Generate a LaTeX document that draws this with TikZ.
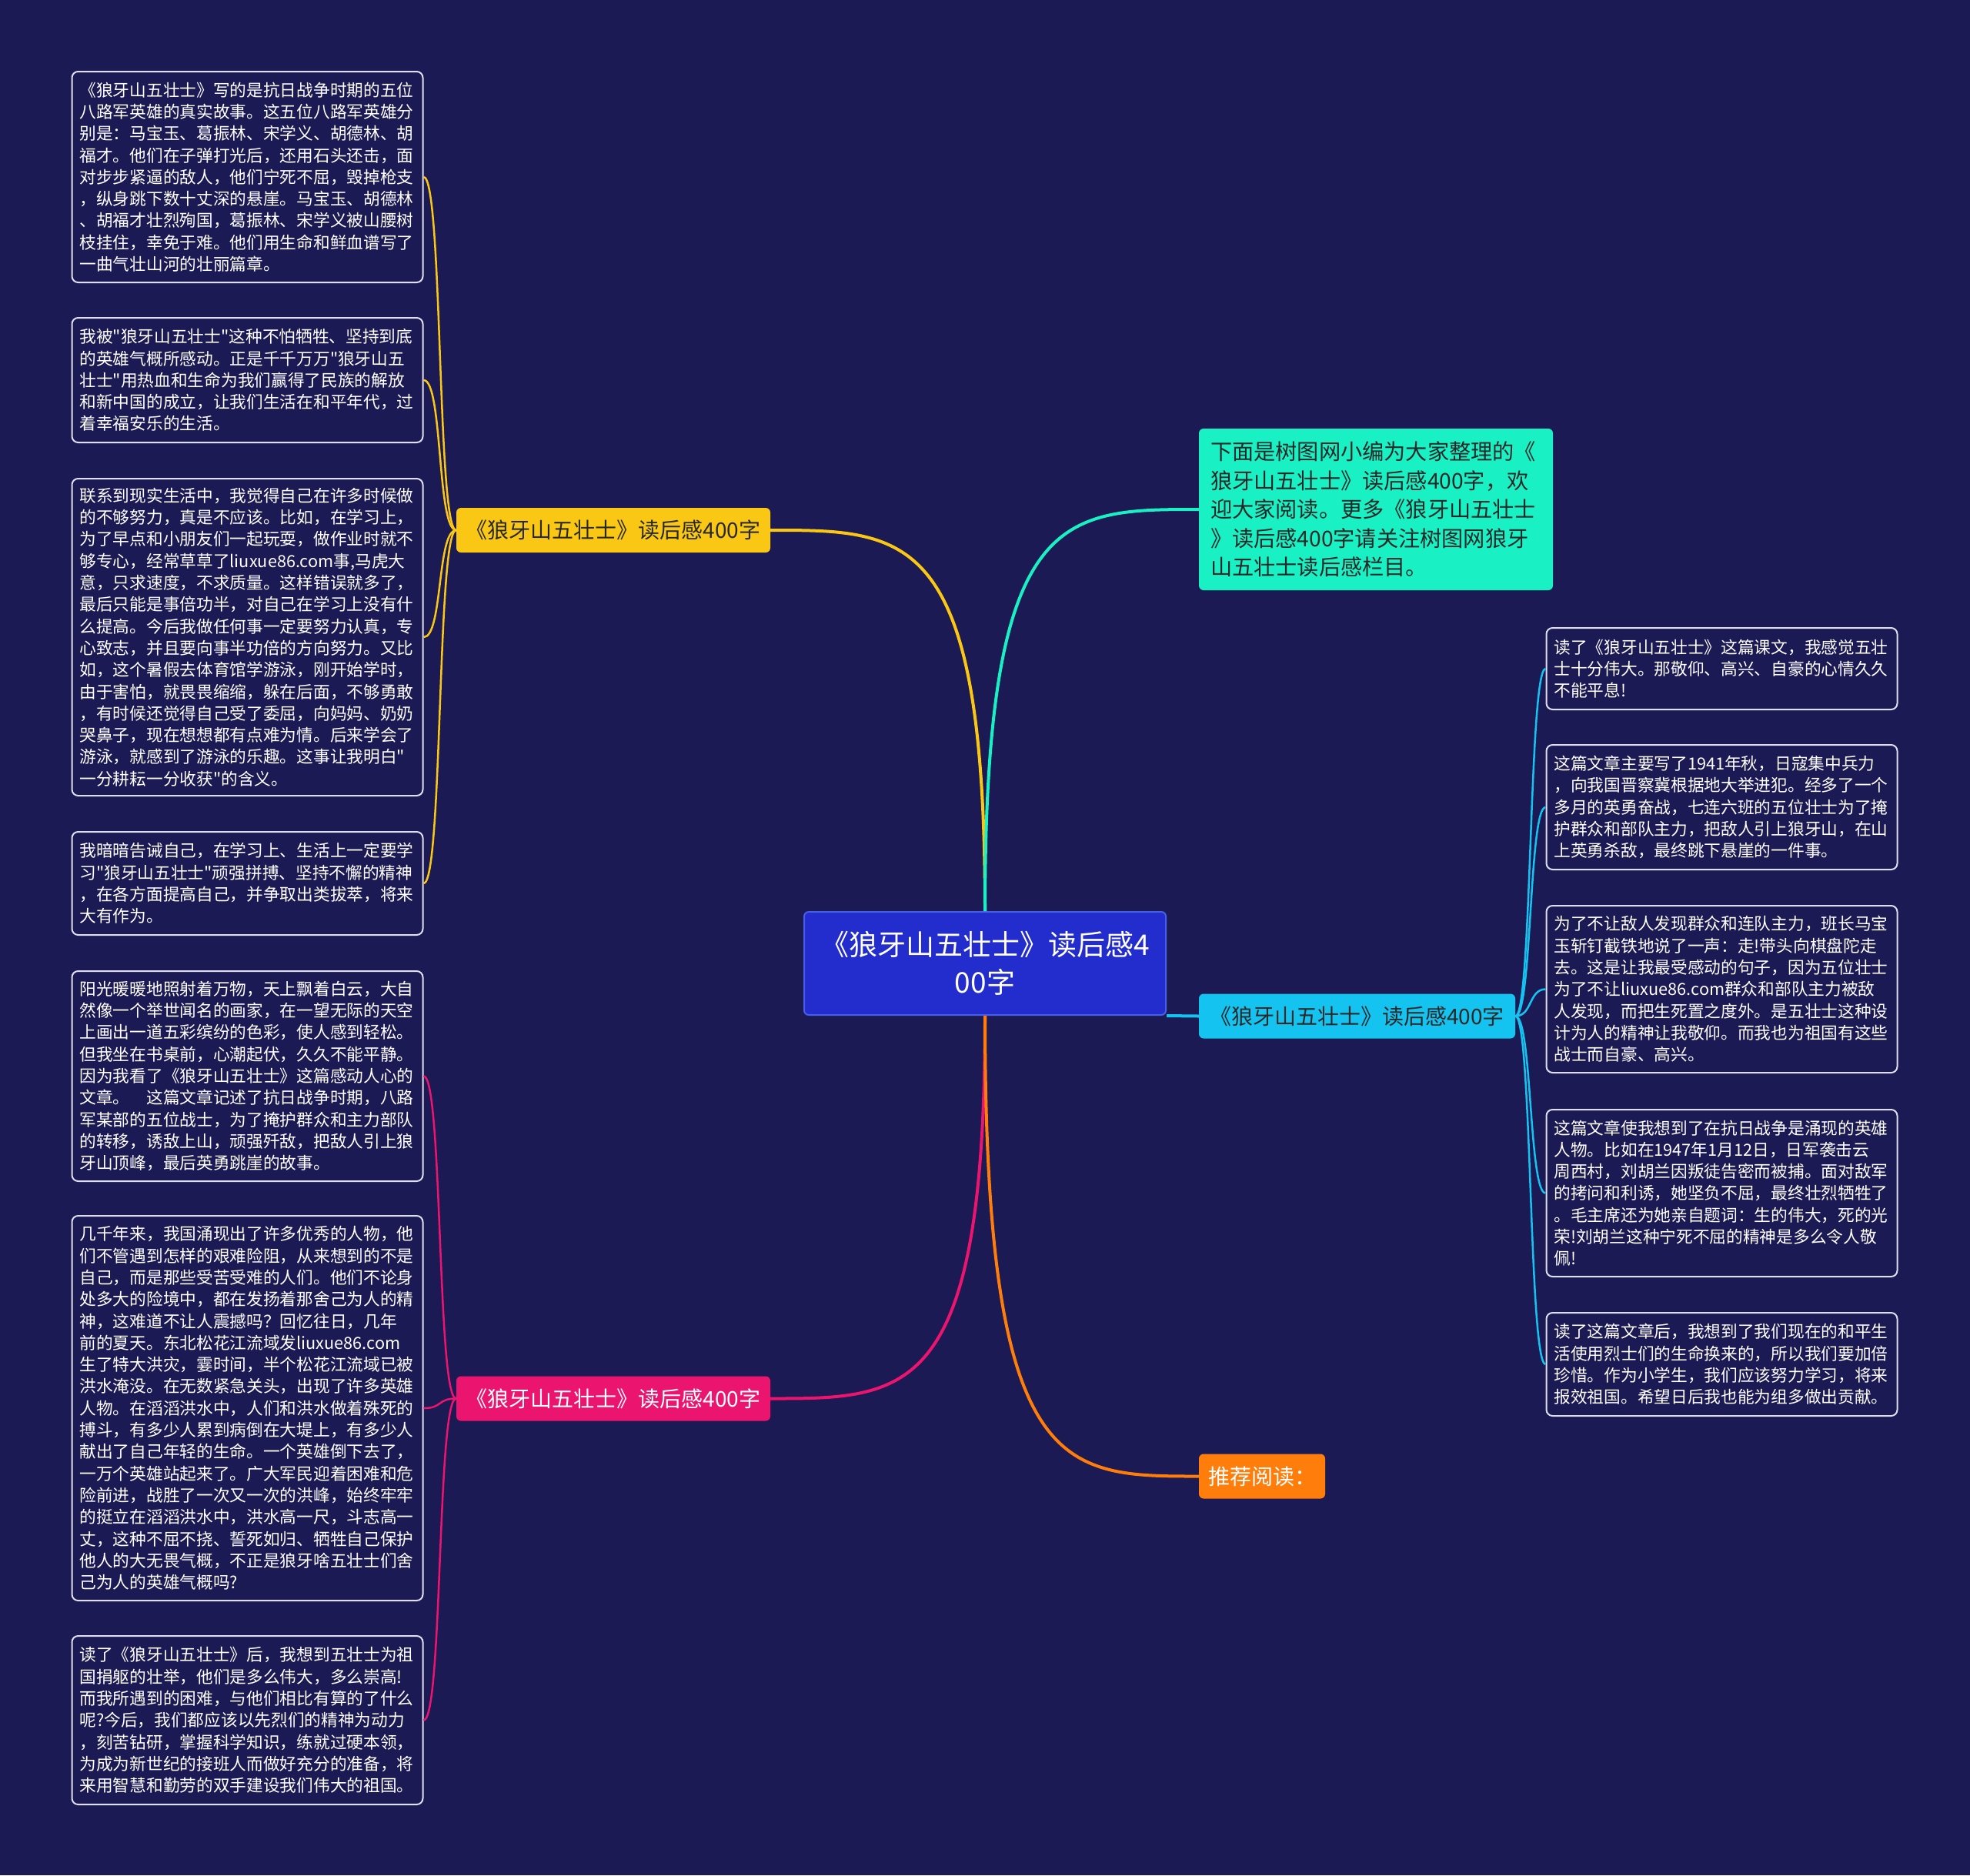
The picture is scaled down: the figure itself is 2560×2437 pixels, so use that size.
\documentclass[tikz,border=0pt]{standalone}
\usepackage{fontspec}
\setmainfont{Noto Sans CJK SC}[Ligatures=TeXOff]
\hyphenpenalty=10000
\definecolor{bgc}{RGB}{27,26,84}
\definecolor{leafline}{RGB}{222,222,238}
\definecolor{hubc}{RGB}{35,45,205}
\definecolor{hubline}{RGB}{70,95,235}
\definecolor{ylw}{RGB}{250,200,20}
\definecolor{pnk}{RGB}{235,20,110}
\definecolor{tea}{RGB}{25,240,195}
\definecolor{cyn}{RGB}{20,195,240}
\definecolor{org}{RGB}{255,125,10}
\definecolor{ink}{RGB}{40,40,40}

\begin{document}
\begin{tikzpicture}[x=1pt,y=-1pt,
  leaf/.style={draw=leafline, line width=2pt, rounded corners=8pt, fill=bgc, text=white,
    font=\fontsize{21.7}{28.3}\selectfont, align=left, text width=436pt, inner xsep=10pt, inner ysep=0pt},
  br/.style={rounded corners=6pt, font=\fontsize{28}{36}\selectfont, inner sep=0pt, minimum height=58pt},
  hub/.style={fill=hubc, draw=hubline, line width=2pt, rounded corners=6pt, text=white,
    font=\fontsize{37}{49}\selectfont, align=center, minimum width=470pt, minimum height=134pt},
  trunk/.style={line width=4pt},
  twig/.style={line width=2.5pt}]
\fill[bgc] (0,0) rectangle (2560,2437);
\useasboundingbox (0,0) rectangle (2560,2437);

\node[hub] (ctr) at (1280,1252) {《狼牙山五壮士》读后感4\\00字};

\node[br, fill=ylw, text=ink, minimum width=408pt] (yel) at (797,689) {《狼牙山五壮士》读后感400字};
\node[br, fill=pnk, text=white, minimum width=408pt] (pnk) at (797,1817.5) {《狼牙山五壮士》读后感400字};
\node[br, fill=cyn, text=ink, minimum width=411pt] (cyn) at (1763.5,1320.5) {《狼牙山五壮士》读后感400字};
\node[br, fill=org, text=white, minimum width=164pt] (rec) at (1640,1918.5) {推荐阅读：};
\node[br, fill=tea, text=ink, font=\fontsize{28.2}{37.5}\selectfont, align=left, text width=430pt,
  inner xsep=15pt, minimum height=210pt] (tea) at (1788,662) {下面是树图网小编为大家整理的《\\
狼牙山五壮士》读后感400字，欢\\
迎大家阅读。更多《狼牙山五壮士\\
》读后感400字请关注树图网狼牙\\
山五壮士读后感栏目。};

% left column
\node[leaf, minimum height=274pt] (l1) at (321.5,230) {《狼牙山五壮士》写的是抗日战争时期的五位\\
八路军英雄的真实故事。这五位八路军英雄分\\
别是：马宝玉、葛振林、宋学义、胡德林、胡\\
福才。他们在子弹打光后，还用石头还击，面\\
对步步紧逼的敌人，他们宁死不屈，毁掉枪支\\
，纵身跳下数十丈深的悬崖。马宝玉、胡德林\\
、胡福才壮烈殉国，葛振林、宋学义被山腰树\\
枝挂住，幸免于难。他们用生命和鲜血谱写了\\
一曲气壮山河的壮丽篇章。};
\node[leaf, minimum height=162pt] (l2) at (321.5,494) {我被"狼牙山五壮士"这种不怕牺牲、坚持到底\\
的英雄气概所感动。正是千千万万"狼牙山五\\
壮士"用热血和生命为我们赢得了民族的解放\\
和新中国的成立，让我们生活在和平年代，过\\
着幸福安乐的生活。};
\node[leaf, minimum height=412pt] (l3) at (321.5,828) {联系到现实生活中，我觉得自己在许多时候做\\
的不够努力，真是不应该。比如，在学习上，\\
为了早点和小朋友们一起玩耍，做作业时就不\\
够专心，经常草草了liuxue86.com事,马虎大\\
意，只求速度，不求质量。这样错误就多了，\\
最后只能是事倍功半，对自己在学习上没有什\\
么提高。今后我做任何事一定要努力认真，专\\
心致志，并且要向事半功倍的方向努力。又比\\
如，这个暑假去体育馆学游泳，刚开始学时，\\
由于害怕，就畏畏缩缩，躲在后面，不够勇敢\\
，有时候还觉得自己受了委屈，向妈妈、奶奶\\
哭鼻子，现在想想都有点难为情。后来学会了\\
游泳，就感到了游泳的乐趣。这事让我明白"\\
一分耕耘一分收获"的含义。};
\node[leaf, minimum height=134pt] (l4) at (321.5,1148) {我暗暗告诫自己，在学习上、生活上一定要学\\
习"狼牙山五壮士"顽强拼搏、坚持不懈的精神\\
，在各方面提高自己，并争取出类拔萃，将来\\
大有作为。};
\node[leaf, minimum height=273pt] (l5) at (321.5,1398.5) {阳光暖暖地照射着万物，天上飘着白云，大自\\
然像一个举世闻名的画家，在一望无际的天空\\
上画出一道五彩缤纷的色彩，使人感到轻松。\\
但我坐在书桌前，心潮起伏，久久不能平静。\\
因为我看了《狼牙山五壮士》这篇感动人心的\\
文章。\hspace{1em}这篇文章记述了抗日战争时期，八路\\
军某部的五位战士，为了掩护群众和主力部队\\
的转移，诱敌上山，顽强歼敌，把敌人引上狼\\
牙山顶峰，最后英勇跳崖的故事。};
\node[leaf, minimum height=500pt] (l6) at (321.5,1830) {几千年来，我国涌现出了许多优秀的人物，他\\
们不管遇到怎样的艰难险阻，从来想到的不是\\
自己，而是那些受苦受难的人们。他们不论身\\
处多大的险境中，都在发扬着那舍己为人的精\\
神，这难道不让人震撼吗？回忆往日，几年\\
前的夏天。东北松花江流域发liuxue86.com\\
生了特大洪灾，霎时间，半个松花江流域已被\\
洪水淹没。在无数紧急关头，出现了许多英雄\\
人物。在滔滔洪水中，人们和洪水做着殊死的\\
搏斗，有多少人累到病倒在大堤上，有多少人\\
献出了自己年轻的生命。一个英雄倒下去了，\\
一万个英雄站起来了。广大军民迎着困难和危\\
险前进，战胜了一次又一次的洪峰，始终牢牢\\
的挺立在滔滔洪水中，洪水高一尺，斗志高一\\
丈，这种不屈不挠、誓死如归、牺牲自己保护\\
他人的大无畏气概，不正是狼牙啥五壮士们舍\\
己为人的英雄气概吗?};
\node[leaf, minimum height=219pt] (l7) at (321.5,2235.5) {读了《狼牙山五壮士》后，我想到五壮士为祖\\
国捐躯的壮举，他们是多么伟大，多么崇高!\\
而我所遇到的困难，与他们相比有算的了什么\\
呢?今后，我们都应该以先烈们的精神为动力\\
，刻苦钻研，掌握科学知识，练就过硬本领，\\
为成为新世纪的接班人而做好充分的准备，将\\
来用智慧和勤劳的双手建设我们伟大的祖国。};

% right column
\node[leaf, minimum height=106pt] (r1) at (2237.5,869) {读了《狼牙山五壮士》这篇课文，我感觉五壮\\
士十分伟大。那敬仰、高兴、自豪的心情久久\\
不能平息!};
\node[leaf, minimum height=162pt] (r2) at (2237.5,1049) {这篇文章主要写了1941年秋，日寇集中兵力\\
，向我国晋察冀根据地大举进犯。经多了一个\\
多月的英勇奋战，七连六班的五位壮士为了掩\\
护群众和部队主力，把敌人引上狼牙山，在山\\
上英勇杀敌，最终跳下悬崖的一件事。};
\node[leaf, minimum height=217pt] (r3) at (2237.5,1285.5) {为了不让敌人发现群众和连队主力，班长马宝\\
玉斩钉截铁地说了一声：走!带头向棋盘陀走\\
去。这是让我最受感动的句子，因为五位壮士\\
为了不让liuxue86.com群众和部队主力被敌\\
人发现，而把生死置之度外。是五壮士这种设\\
计为人的精神让我敬仰。而我也为祖国有这些\\
战士而自豪、高兴。};
\node[leaf, minimum height=217pt] (r4) at (2237.5,1550.5) {这篇文章使我想到了在抗日战争是涌现的英雄\\
人物。比如在1947年1月12日，日军袭击云\\
周西村，刘胡兰因叛徒告密而被捕。面对敌军\\
的拷问和利诱，她坚负不屈，最终壮烈牺牲了\\
。毛主席还为她亲自题词：生的伟大，死的光\\
荣!刘胡兰这种宁死不屈的精神是多么令人敬\\
佩!};
\node[leaf, minimum height=134pt] (r5) at (2237.5,1773) {读了这篇文章后，我想到了我们现在的和平生\\
活使用烈士们的生命换来的，所以我们要加倍\\
珍惜。作为小学生，我们应该努力学习，将来\\
报效祖国。希望日后我也能为组多做出贡献。};

% trunks
\draw[trunk, ylw] (ctr.north) .. controls (ctr.north |- yel.east) and +(180,0) .. (yel.east);
\draw[trunk, tea] (ctr.north) .. controls (ctr.north |- tea.west) and +(-180,0) .. (tea.west);
\draw[trunk, pnk] (ctr.south) .. controls (ctr.south |- pnk.east) and +(180,0) .. (pnk.east);
\draw[trunk, org] (ctr.south) .. controls (ctr.south |- rec.west) and +(-180,0) .. (rec.west);
\draw[trunk, cyn] (ctr.south east) -- (cyn.west);

% twigs
\draw[twig, ylw] (yel.west) .. controls +(-25,0) and +(25,0) .. (l1.east);
\draw[twig, ylw] (yel.west) .. controls +(-25,0) and +(25,0) .. (l2.east);
\draw[twig, ylw] (yel.west) .. controls +(-25,0) and +(25,0) .. (l3.east);
\draw[twig, ylw] (yel.west) .. controls +(-25,0) and +(25,0) .. (l4.east);
\draw[twig, pnk] (pnk.west) .. controls +(-25,0) and +(25,0) .. (l5.east);
\draw[twig, pnk] (pnk.west) .. controls +(-25,0) and +(25,0) .. (l6.east);
\draw[twig, pnk] (pnk.west) .. controls +(-25,0) and +(25,0) .. (l7.east);
\draw[twig, cyn] (cyn.east) .. controls +(22,0) and +(-22,0) .. (r1.west);
\draw[twig, cyn] (cyn.east) .. controls +(22,0) and +(-22,0) .. (r2.west);
\draw[twig, cyn] (cyn.east) .. controls +(22,0) and +(-22,0) .. (r3.west);
\draw[twig, cyn] (cyn.east) .. controls +(22,0) and +(-22,0) .. (r4.west);
\draw[twig, cyn] (cyn.east) .. controls +(22,0) and +(-22,0) .. (r5.west);
\end{tikzpicture}
\end{document}
